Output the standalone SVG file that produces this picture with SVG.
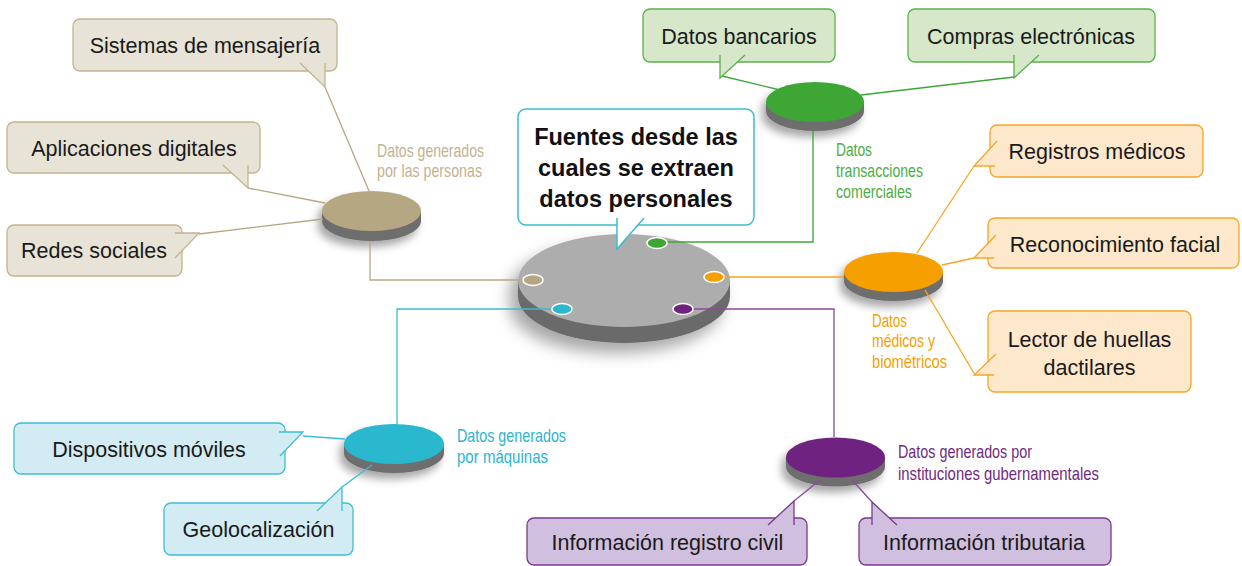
<svg xmlns="http://www.w3.org/2000/svg" width="1242" height="566" viewBox="0 0 1242 566">
<defs>
<filter id="sh" x="-40%" y="-40%" width="180%" height="200%">
<feDropShadow dx="-4" dy="6" stdDeviation="4" flood-color="#000" flood-opacity="0.35"/>
</filter>
<filter id="shbig" x="-30%" y="-30%" width="160%" height="180%">
<feDropShadow dx="-8" dy="10" stdDeviation="8" flood-color="#000" flood-opacity="0.35"/>
</filter>
<style>
.t{font-family:"Liberation Sans",Arial,sans-serif;font-size:21.5px;fill:#1a1a1a;text-anchor:middle}
.tb{font-family:"Liberation Sans",Arial,sans-serif;font-size:23.5px;font-weight:bold;fill:#111;text-anchor:middle}
.lb{font-family:"Liberation Sans",Arial,sans-serif;font-size:19px}
.band{fill:#6e6e6e}
.dot{stroke:#fff;stroke-width:1.5}
.btan{fill:#e8e3d7;stroke:#c2b48f;stroke-width:1.3}
.bgrn{fill:#d6e8c9;stroke:#5ab04c;stroke-width:1.3}
.bora{fill:#fde8cc;stroke:#f6a623;stroke-width:1.3}
.bcya{fill:#d3ebf2;stroke:#3cbfd3;stroke-width:1.3}
.bpur{fill:#d1bfdf;stroke:#7a3a8c;stroke-width:1.3}
.call{fill:#fff;stroke:#3bbdd0;stroke-width:1.5}
.c{fill:none;stroke-width:1.3}
.ctan{stroke:#b6a783}.cgrn{stroke:#3ea636}.cora{stroke:#f5a623}.ccya{stroke:#3bbdd0}.cpur{stroke:#8a4a9a}
</style>
</defs>
<rect width="1242" height="566" fill="#fff"/>

<!-- hub -->
<g id="hub">
<g filter="url(#shbig)">
<path d="M518,280.5 L518,296.5 A106,46.5 0 0 0 730,296.5 L730,280.5 Z" fill="#6b6b6b"/>
<ellipse cx="624" cy="280.5" rx="106" ry="46.5" fill="#adadad"/>
</g>
</g>

<!-- sub discs -->
<g id="disc-personas" filter="url(#sh)">
<path class="band" d="M322,211 L322,221 A49.5,20 0 0 0 421,221 L421,211 Z"/>
<ellipse cx="371.5" cy="211" rx="49.5" ry="20" fill="#b6a783"/>
</g>
<g id="disc-comerciales" filter="url(#sh)">
<path class="band" d="M766,102 L766,111 A49,20 0 0 0 864,111 L864,102 Z"/>
<ellipse cx="815" cy="102" rx="49" ry="20" fill="#3ea636"/>
</g>
<g id="disc-medicos" filter="url(#sh)">
<path class="band" d="M844,272 L844,281 A49.5,20 0 0 0 943,281 L943,272 Z"/>
<ellipse cx="893.5" cy="272" rx="49.5" ry="20" fill="#f59f00"/>
</g>
<g id="disc-maquinas" filter="url(#sh)">
<path class="band" d="M344,444 L344,453 A50,20 0 0 0 444,453 L444,444 Z"/>
<ellipse cx="394" cy="444" rx="50" ry="20" fill="#2bb8cf"/>
</g>
<g id="disc-gubernamentales" filter="url(#sh)">
<path class="band" d="M786,457.5 L786,466.5 A49.5,20 0 0 0 885,466.5 L885,457.5 Z"/>
<ellipse cx="835.5" cy="457.5" rx="49.5" ry="20" fill="#6f2280"/>
</g>

<!-- connectors -->
<g id="connectors">
<path class="c ctan" d="M523,280 H370 V241"/>
<path class="c cgrn" d="M667,242 H813 V131"/>
<path class="c cora" d="M724,277 H844"/>
<path class="c ccya" d="M552,309 H397 V424"/>
<path class="c cpur" d="M693,309 H834 V437"/>
<path class="c ctan" d="M325,87 L369,191"/>
<path class="c ctan" d="M248,188 L325,203"/>
<path class="c ctan" d="M199,234 L323,219"/>
<path class="c cgrn" d="M722,76 L780,90"/>
<path class="c cgrn" d="M1014,77 L861,95"/>
<path class="c cora" d="M974,166 L917,253"/>
<path class="c cora" d="M974,258 L942,265"/>
<path class="c cora" d="M975,375 L925,290"/>
<path class="c ccya" d="M303,436 L345,439"/>
<path class="c ccya" d="M342,487 L372,465"/>
<path class="c cpur" d="M794,501 L820,480"/>
<path class="c cpur" d="M872,502 L852,480"/>
</g>

<!-- hub dots -->
<g id="hub-dots">
<ellipse class="dot" cx="657" cy="243" rx="10" ry="5.5" fill="#3ea636"/>
<ellipse class="dot" cx="714" cy="277" rx="10" ry="5.5" fill="#f59f00"/>
<ellipse class="dot" cx="533" cy="280" rx="10" ry="5.5" fill="#b6a783"/>
<ellipse class="dot" cx="562" cy="309" rx="10" ry="5.5" fill="#2bb8cf"/>
<ellipse class="dot" cx="683" cy="309" rx="10" ry="5.5" fill="#6f2280"/>
</g>

<!-- central callout -->
<g id="callout">
<rect class="call" x="518" y="109" width="236" height="116" rx="8"/>
<path class="call" d="M617,218 L617,249 L644,218"/>
<text class="tb" x="636" y="145">Fuentes desde las</text>
<text class="tb" x="636" y="176">cuales se extraen</text>
<text class="tb" x="636" y="207">datos personales</text>
</g>

<!-- labels -->
<g id="label-personas" class="lb" fill="#c2b28f">
<text x="377" y="157" textLength="107" lengthAdjust="spacingAndGlyphs">Datos generados</text>
<text x="377" y="177" textLength="105" lengthAdjust="spacingAndGlyphs">por las personas</text>
</g>
<g id="label-comerciales" class="lb" fill="#4cae45">
<text x="836" y="156" textLength="36" lengthAdjust="spacingAndGlyphs">Datos</text>
<text x="836" y="177" textLength="87" lengthAdjust="spacingAndGlyphs">transacciones</text>
<text x="836" y="198" textLength="76" lengthAdjust="spacingAndGlyphs">comerciales</text>
</g>
<g id="label-medicos" class="lb" fill="#f4a100">
<text x="872" y="327" textLength="35" lengthAdjust="spacingAndGlyphs">Datos</text>
<text x="872" y="347" textLength="63" lengthAdjust="spacingAndGlyphs">médicos y</text>
<text x="872" y="368" textLength="75" lengthAdjust="spacingAndGlyphs">biométricos</text>
</g>
<g id="label-maquinas" class="lb" fill="#2bb5d0">
<text x="457" y="442" textLength="109" lengthAdjust="spacingAndGlyphs">Datos generados</text>
<text x="457" y="463" textLength="91" lengthAdjust="spacingAndGlyphs">por máquinas</text>
</g>
<g id="label-gubernamentales" class="lb" fill="#702a82">
<text x="898" y="458" textLength="134" lengthAdjust="spacingAndGlyphs">Datos generados por</text>
<text x="898" y="480" textLength="201" lengthAdjust="spacingAndGlyphs">instituciones gubernamentales</text>
</g>

<!-- bubbles -->
<g id="n-sistemas">
<rect class="btan" x="73" y="19" width="264" height="52" rx="7"/>
<path class="btan" d="M300,63 L325,87 L325,63"/>
<text class="t" x="205" y="53">Sistemas de mensajería</text>
</g>
<g id="n-aplicaciones">
<rect class="btan" x="7" y="122" width="253" height="51" rx="7"/>
<path class="btan" d="M223,165 L248,188 L248,165"/>
<text class="t" x="134" y="156">Aplicaciones digitales</text>
</g>
<g id="n-redes">
<rect class="btan" x="7" y="225" width="175" height="51" rx="7"/>
<path class="btan" d="M175,233 L199,233 L175,258"/>
<text class="t" x="94" y="258">Redes sociales</text>
</g>
<g id="n-bancarios">
<rect class="bgrn" x="643" y="9" width="192" height="53" rx="7"/>
<path class="bgrn" d="M720,55 L720,78 L745,55"/>
<text class="t" x="739" y="44">Datos bancarios</text>
</g>
<g id="n-compras">
<rect class="bgrn" x="908" y="9" width="247" height="53" rx="7"/>
<path class="bgrn" d="M1014,55 L1014,78 L1039,55"/>
<text class="t" x="1031" y="44">Compras electrónicas</text>
</g>
<g id="n-registros">
<rect class="bora" x="990" y="125" width="213" height="52" rx="7"/>
<path class="bora" d="M997,141 L974,166 L995,166"/>
<text class="t" x="1097" y="159">Registros médicos</text>
</g>
<g id="n-reconocimiento">
<rect class="bora" x="988" y="218" width="251" height="50" rx="7"/>
<path class="bora" d="M996,235 L974,258 L994,258"/>
<text class="t" x="1115" y="252">Reconocimiento facial</text>
</g>
<g id="n-lector">
<rect class="bora" x="988" y="311" width="203" height="81" rx="7"/>
<path class="bora" d="M996,354 L974,375 L994,375"/>
<text class="t" x="1089.5" y="347">Lector de huellas</text>
<text class="t" x="1089.5" y="375">dactilares</text>
</g>
<g id="n-dispositivos">
<rect class="bcya" x="14" y="423" width="271" height="51" rx="7"/>
<path class="bcya" d="M279,432 L303,432 L280,456"/>
<text class="t" x="149" y="457">Dispositivos móviles</text>
</g>
<g id="n-geolocalizacion">
<rect class="bcya" x="164" y="503" width="189" height="52" rx="7"/>
<path class="bcya" d="M317,511 L342,487 L342,511"/>
<text class="t" x="258.5" y="537">Geolocalización</text>
</g>
<g id="n-registro-civil">
<rect class="bpur" x="527" y="518" width="280" height="47" rx="7"/>
<path class="bpur" d="M768,525 L794,501 L794,525"/>
<text class="t" x="667.5" y="550">Información registro civil</text>
</g>
<g id="n-tributaria">
<rect class="bpur" x="859" y="518" width="252" height="47" rx="7"/>
<path class="bpur" d="M872,525 L872,502 L897,525"/>
<text class="t" x="984" y="550">Información tributaria</text>
</g>
</svg>
